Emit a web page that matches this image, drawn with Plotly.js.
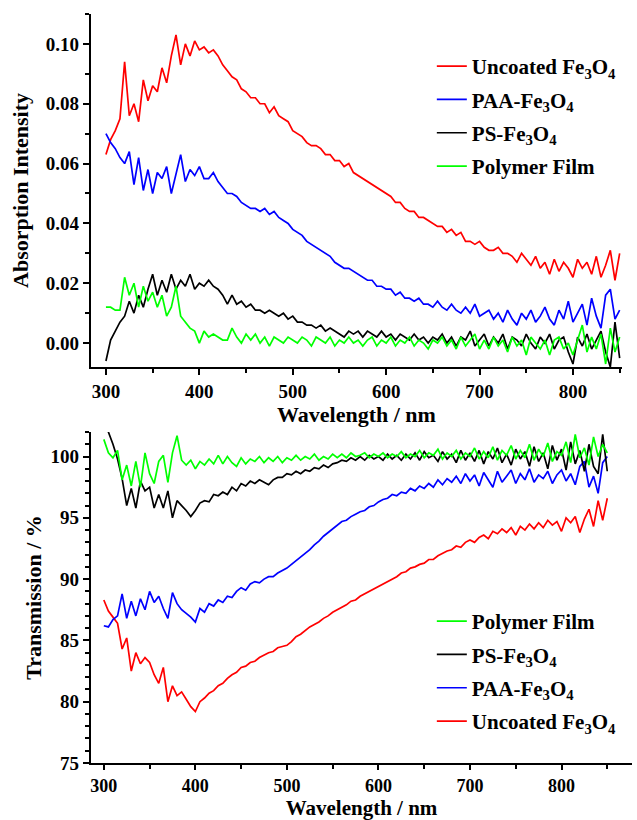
<!DOCTYPE html>
<html>
<head>
<meta charset="utf-8">
<script src="https://cdn.plot.ly/plotly-3.0.1.min.js"></script>
<style>html,body{margin:0;padding:0;background:#fff;}#chart{width:637px;height:820px;}</style>
</head>
<body>
<div id="chart"></div>
<script>
const wavelength = [300,305,310,315,320,325,330,335,340,345,350,355,360,365,370,375,380,385,390,395,
400,405,410,415,420,425,430,435,440,445,450,455,460,465,470,475,480,485,490,495,
500,505,510,515,520,525,530,535,540,545,550,555,560,565,570,575,580,585,590,595,
600,605,610,615,620,625,630,635,640,645,650,655,660,665,670,675,680,685,690,695,
700,705,710,715,720,725,730,735,740,745,750,755,760,765,770,775,780,785,790,795,
800,805,810,815,820,825,830,835,840,845,850];

const seriesNames = ['Uncoated Fe<sub>3</sub>O<sub>4</sub>','PAA-Fe<sub>3</sub>O<sub>4</sub>','PS-Fe<sub>3</sub>O<sub>4</sub>','Polymer Film'];

// Absorption intensity (top panel)
const absUncoated = [0.063,0.068,0.071,0.075,0.094,0.076,0.080,0.074,0.088,0.081,0.086,0.084,0.092,0.087,0.096,0.103,0.093,0.100,0.096,0.101,
0.098,0.099,0.097,0.098,0.096,0.093,0.091,0.089,0.088,0.085,0.084,0.082,0.082,0.080,0.080,0.077,0.079,0.076,0.075,0.074,
0.071,0.070,0.069,0.067,0.066,0.066,0.065,0.063,0.063,0.061,0.061,0.059,0.060,0.057,0.056,0.055,0.054,0.053,0.052,0.051,
0.050,0.049,0.047,0.047,0.045,0.044,0.044,0.042,0.042,0.041,0.040,0.039,0.039,0.037,0.038,0.036,0.037,0.034,0.034,0.033,
0.034,0.032,0.031,0.031,0.032,0.030,0.030,0.029,0.027,0.030,0.028,0.026,0.029,0.025,0.027,0.023,0.028,0.024,0.027,0.025,
0.022,0.028,0.025,0.027,0.023,0.029,0.022,0.026,0.031,0.021,0.030];
const absPAA = [0.070,0.067,0.065,0.062,0.060,0.064,0.053,0.062,0.051,0.058,0.050,0.057,0.055,0.059,0.050,0.057,0.063,0.054,0.058,0.056,
0.059,0.055,0.055,0.057,0.054,0.052,0.050,0.050,0.049,0.047,0.046,0.045,0.045,0.044,0.045,0.043,0.044,0.042,0.041,0.040,
0.038,0.037,0.036,0.034,0.033,0.032,0.031,0.030,0.029,0.027,0.026,0.025,0.025,0.024,0.023,0.022,0.021,0.021,0.019,0.019,
0.018,0.018,0.016,0.017,0.015,0.015,0.014,0.015,0.013,0.013,0.012,0.014,0.012,0.011,0.013,0.011,0.010,0.012,0.010,0.013,
0.009,0.010,0.011,0.008,0.010,0.007,0.011,0.008,0.006,0.010,0.008,0.011,0.007,0.009,0.012,0.008,0.006,0.011,0.008,0.014,
0.007,0.010,0.013,0.006,0.015,0.009,0.005,0.016,0.018,0.008,0.011];
const absPS = [-0.006,0.001,0.004,0.007,0.009,0.014,0.010,0.016,0.012,0.018,0.023,0.016,0.021,0.017,0.023,0.018,0.021,0.019,0.023,0.018,
0.020,0.019,0.021,0.019,0.018,0.016,0.013,0.016,0.013,0.014,0.012,0.013,0.011,0.011,0.010,0.011,0.010,0.009,0.010,0.008,
0.009,0.007,0.007,0.006,0.006,0.005,0.006,0.004,0.005,0.004,0.003,0.002,0.004,0.003,0.004,0.002,0.004,0.003,0.002,0.004,
0.002,0.003,0.001,0.003,0.002,0.001,0.003,0.001,0.002,0.000,0.002,0.001,0.003,0.000,0.002,-0.001,0.002,0.001,0.004,-0.001,
0.001,0.003,-0.001,0.002,0.000,0.003,-0.002,0.002,0.001,-0.001,0.003,0.000,-0.002,0.002,0.000,0.003,-0.002,0.001,0.002,-0.003,
-0.007,0.002,-0.001,0.003,-0.002,0.001,0.004,-0.003,-0.008,0.007,-0.005];
const absFilm = [0.012,0.012,0.011,0.011,0.022,0.016,0.020,0.012,0.019,0.014,0.017,0.012,0.016,0.009,0.012,0.019,0.009,0.007,0.005,0.004,
0.000,0.004,0.002,0.003,0.002,0.001,0.001,0.005,0.002,0.000,0.003,0.001,0.003,0.000,0.002,-0.001,0.002,0.001,0.000,0.002,
0.001,0.000,0.002,0.001,-0.001,0.002,0.001,0.000,0.002,-0.001,0.001,0.000,0.002,0.000,0.001,-0.001,0.001,0.002,-0.001,0.001,
0.000,0.002,-0.001,0.001,0.000,0.002,-0.001,0.001,0.000,-0.002,0.001,0.000,0.002,-0.001,0.001,-0.002,0.002,-0.001,0.001,0.003,
-0.002,0.001,-0.002,0.002,-0.001,0.001,-0.003,0.002,-0.001,0.001,-0.004,0.002,0.000,-0.002,0.001,-0.004,0.001,0.002,-0.002,0.000,
-0.004,0.001,0.006,-0.003,0.002,-0.002,0.003,-0.007,0.005,-0.003,0.002];

// Transmission (bottom panel)
const transUncoated = [88.3,87.4,86.9,86.4,84.3,85.2,82.5,84.0,83.1,83.6,83.2,82.2,81.5,82.8,80.0,81.3,80.5,80.8,80.2,79.6,
79.2,80.0,80.3,80.7,80.9,81.3,81.5,81.9,82.2,82.4,82.8,82.9,83.2,83.3,83.6,83.8,84.0,84.1,84.4,84.5,
84.6,84.9,85.3,85.5,85.8,86.1,86.3,86.5,86.8,87.0,87.3,87.5,87.7,87.9,88.2,88.3,88.6,88.8,89.0,89.2,
89.4,89.6,89.8,90.0,90.2,90.5,90.6,90.9,91.0,91.2,91.3,91.6,91.6,91.9,92.1,92.3,92.4,92.7,92.6,93.0,
93.2,93.0,93.4,93.6,93.3,93.9,93.7,94.1,93.8,94.2,93.6,94.3,94.0,94.5,94.1,94.6,94.2,94.8,94.4,94.7,
93.9,95.0,94.6,95.1,93.8,94.9,95.7,94.3,96.4,94.8,96.6];
const transPAA = [86.2,86.1,86.7,87.0,88.8,86.8,88.2,87.0,88.4,87.5,89.0,88.1,88.6,87.6,86.8,88.9,88.0,87.5,87.2,86.9,
86.5,87.6,87.3,88.0,87.8,88.3,88.1,88.6,88.5,89.0,89.3,89.1,89.6,89.8,89.7,90.0,90.2,90.2,90.5,90.7,
90.9,91.2,91.5,91.8,92.1,92.4,92.8,93.1,93.5,93.8,94.1,94.4,94.7,94.8,95.1,95.3,95.5,95.6,95.9,96.0,
96.3,96.5,96.6,96.9,96.8,97.1,97.0,97.4,97.2,97.6,97.4,97.8,97.5,98.1,97.7,98.2,97.9,98.4,97.8,98.6,
98.0,98.5,97.6,98.7,98.1,97.5,98.8,97.9,98.4,98.9,97.8,98.6,98.1,99.0,97.9,98.5,98.2,98.8,97.8,98.5,
98.9,98.0,98.6,97.7,99.2,99.6,97.5,98.4,97.0,99.5,100.0];
const transPS = [103.0,102.0,101.0,99.8,98.2,96.0,97.4,95.8,98.0,97.2,97.5,95.8,96.9,95.8,97.2,95.0,96.4,96.0,95.6,95.1,
95.6,96.2,96.4,96.3,96.9,96.8,97.1,96.9,97.5,97.2,97.8,97.6,98.0,97.8,98.1,97.9,97.7,98.1,98.3,98.3,
98.6,98.5,98.8,98.6,98.9,98.8,99.1,99.0,99.3,99.1,99.4,99.5,99.7,99.6,99.9,99.7,100.0,99.7,100.1,99.8,
100.0,99.7,100.2,99.8,100.1,99.7,100.2,99.8,100.3,99.7,100.4,99.9,100.1,99.6,100.4,99.8,100.2,99.5,100.5,99.7,
100.3,99.6,100.5,99.4,100.4,99.8,100.7,99.5,100.2,99.3,100.6,99.8,100.4,99.2,100.8,99.6,100.3,99.0,100.9,99.7,
100.6,98.9,101.2,99.4,100.5,98.8,101.0,99.2,98.6,101.8,98.8];
const transFilm = [101.4,100.3,99.9,100.5,98.1,99.3,97.6,99.6,97.5,100.3,98.6,97.8,99.6,100.1,97.9,100.3,101.7,99.7,99.3,99.7,
99.0,99.6,99.3,99.8,99.4,100.1,99.4,100.0,99.5,99.2,99.9,99.4,99.8,99.6,100.0,99.5,99.9,99.6,100.0,99.5,
99.9,99.7,100.1,99.7,100.0,99.8,100.2,99.7,100.0,99.8,100.2,99.9,100.2,99.9,100.3,100.0,100.1,100.3,99.9,100.2,
100.0,100.3,99.9,100.2,100.0,100.4,99.9,100.2,100.0,100.5,99.9,100.3,100.1,100.6,99.8,100.3,100.0,100.5,99.8,100.3,
100.0,100.7,99.8,100.4,99.9,100.8,99.7,100.5,100.1,100.9,99.8,100.5,99.9,101.0,99.7,100.6,100.0,101.1,99.6,100.4,
100.1,101.2,99.5,101.8,99.9,100.7,99.3,101.6,100.0,101.0,100.3];

const colors = ['#ff0000','#0000ff','#000000','#00ff00'];
const absData = [absUncoated, absPAA, absPS, absFilm];
const transData = [transUncoated, transPAA, transPS, transFilm];

const FONT = 'Liberation Serif, Times New Roman, serif';
const traces = [];
absData.forEach((ys, i) => traces.push({
  x: wavelength, y: ys, type: 'scatter', mode: 'lines', name: '<b>' + seriesNames[i] + '</b>',
  legendgroup: 'a' + i, legendrank: i + 1,
  line: {color: colors[i], width: 1.7}, xaxis: 'x', yaxis: 'y', legend: 'legend'
}));
transData.forEach((ys, i) => traces.push({
  x: wavelength, y: ys, type: 'scatter', mode: 'lines', name: '<b>' + seriesNames[i] + '</b>',
  legendgroup: 't' + i, legendrank: 4 - i,
  line: {color: colors[i], width: 1.7}, xaxis: 'x2', yaxis: 'y2', legend: 'legend2'
}));

const axisCommon = {
  showline: true, linecolor: '#000', linewidth: 2.2, showgrid: false, zeroline: false,
  ticks: 'outside', ticklen: 6, tickwidth: 2, tickcolor: '#000',
  tickfont: {family: FONT, size: 19, color: '#000', weight: 'bold'},
  title: {font: {family: FONT, size: 22, color: '#000', weight: 'bold'}}
};
function ax(extra) { return Object.assign(JSON.parse(JSON.stringify(axisCommon)), extra, {title: Object.assign({}, axisCommon.title, extra.title || {})}); }

const layout = {
  width: 637, height: 820,
  margin: {l: 91, r: 5, t: 14, b: 57},
  paper_bgcolor: '#fff', plot_bgcolor: '#fff',
  font: {family: FONT, color: '#000'},
  showlegend: true,
  xaxis: ax({domain: [0, 0.9815], anchor: 'y', range: [284, 852.5], dtick: 100, tick0: 0,
    minor: {dtick: 50, ticks: 'outside', ticklen: 4, tickwidth: 2, tickcolor: '#000'},
    title: {text: '<b>Wavelength / nm</b>', standoff: 4}}),
  yaxis: ax({domain: [0.5287, 1], anchor: 'x', range: [-0.008, 0.11], dtick: 0.02, tick0: 0, tickformat: '.2f',
    minor: {dtick: 0.01, ticks: 'outside', ticklen: 4, tickwidth: 2, tickcolor: '#000'},
    title: {text: '<b>Absorption Intensity</b>', standoff: 11}}),
  xaxis2: ax({domain: [0, 1], anchor: 'y2', range: [286, 877], dtick: 100, tick0: 0, ticklen: 5,
    tickfont: {family: FONT, size: 18, color: '#000', weight: 'bold'},
    minor: {dtick: 50, ticks: 'outside', ticklen: 4, tickwidth: 2, tickcolor: '#000'},
    title: {text: '<b>Wavelength / nm</b>', standoff: 10, font: {family: FONT, size: 21, color: '#000', weight: 'bold'}}}),
  yaxis2: ax({domain: [0, 0.4419], anchor: 'x2', range: [75, 102], dtick: 5, tick0: 0,
    minor: {dtick: 1, ticks: 'outside', ticklen: 4, tickwidth: 2, tickcolor: '#000'},
    title: {text: '<b>Transmission / %</b>', standoff: 3}}),
  legend: {x: 0.63, y: 0.9573, xanchor: 'left', yanchor: 'top', bgcolor: 'rgba(0,0,0,0)',
    font: {family: FONT, size: 21, color: '#000'}, traceorder: 'grouped', tracegroupgap: 3},
  legend2: {x: 0.63, y: 0.2163, xanchor: 'left', yanchor: 'top', bgcolor: 'rgba(0,0,0,0)',
    font: {family: FONT, size: 21, color: '#000'}, traceorder: 'grouped', tracegroupgap: 3}
};

Plotly.newPlot('chart', traces, layout, {displayModeBar: false, staticPlot: true});
</script>
</body>
</html>
